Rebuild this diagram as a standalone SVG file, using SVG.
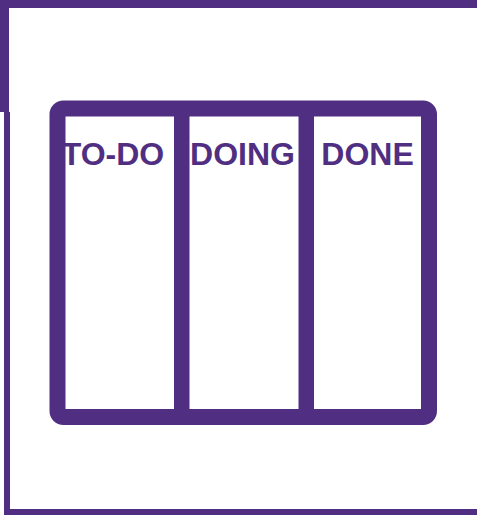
<svg xmlns="http://www.w3.org/2000/svg" width="477" height="515" viewBox="0 0 477 515">
<style>
.p{fill:#502F82}
.s{fill:none;stroke:#502F82}
.t{font-family:"Liberation Sans",Arial,sans-serif;font-weight:bold;font-size:32px;fill:#502F82;text-anchor:middle}
</style>
<rect width="477" height="515" fill="#fff"/>
<g id="frame">
<rect class="p" x="0" y="0" width="477" height="8"/>
<rect class="p" x="0" y="0" width="9" height="112"/>
<rect class="p" x="4" y="112" width="6" height="403"/>
<rect class="p" x="4" y="509" width="473" height="6"/>
</g>
<g id="board">
<rect class="s" x="57.5" y="108.5" width="371.5" height="308.5" rx="6" stroke-width="16"/>
<rect class="p" x="174" y="104" width="15.5" height="318"/>
<rect class="p" x="298.5" y="104" width="15.5" height="318"/>
</g>
<g id="todo"><text class="t" x="113" y="164.5">TO-DO</text></g>
<g id="doing"><text class="t" x="242.5" y="164.5">DOING</text></g>
<g id="done"><text class="t" x="367.5" y="164.5">DONE</text></g>
</svg>
